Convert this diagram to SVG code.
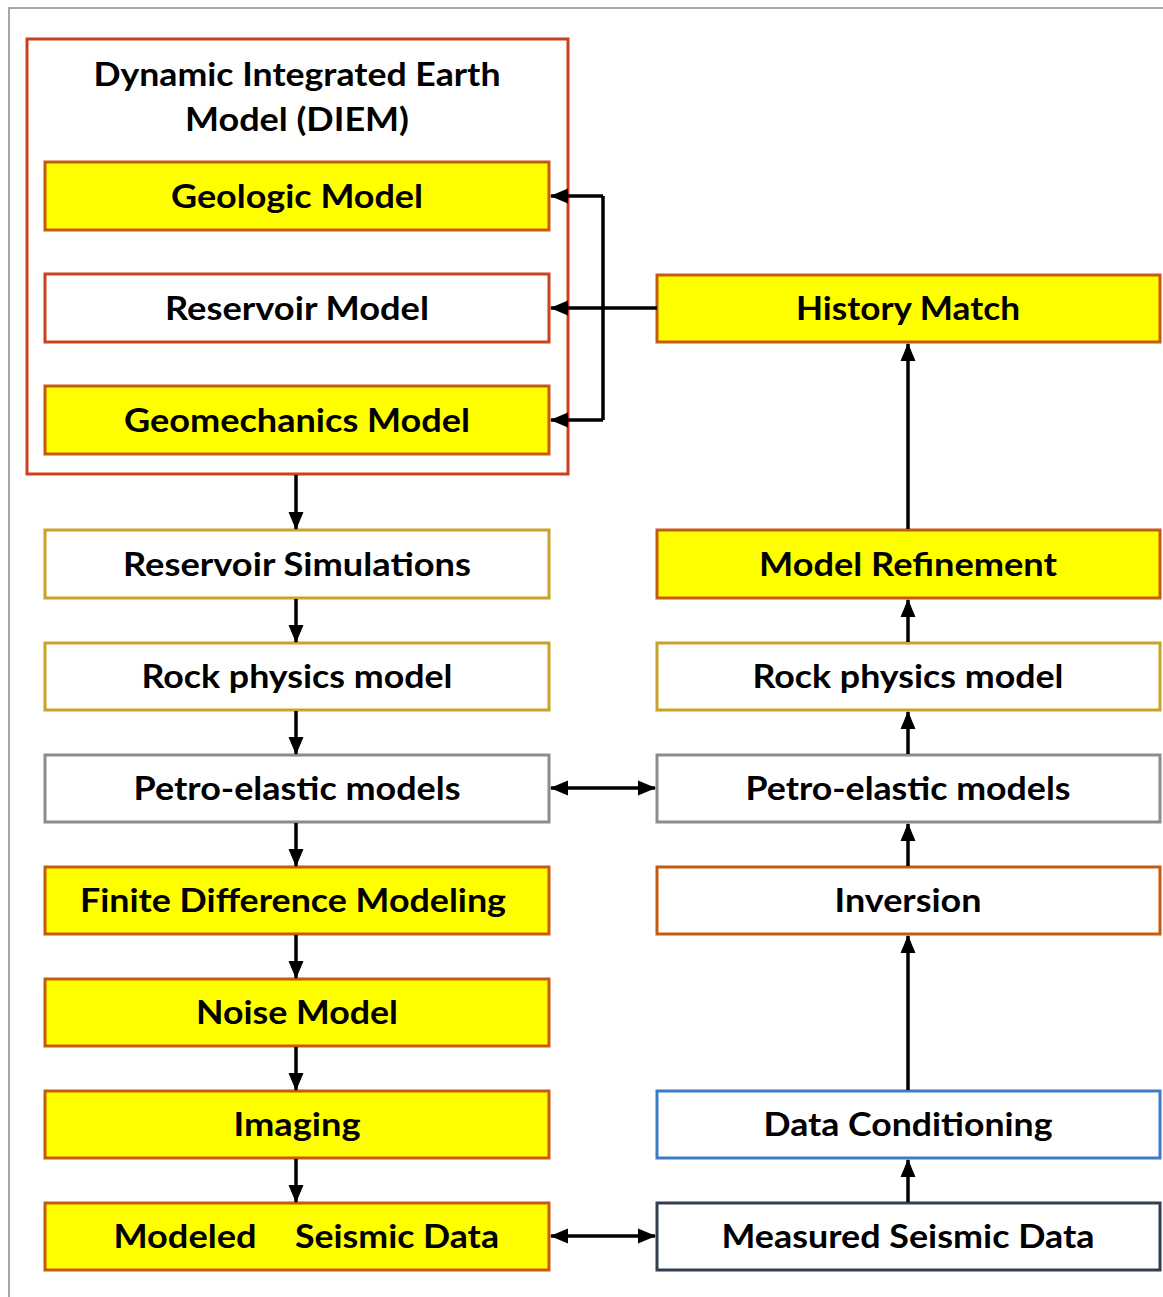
<svg xmlns="http://www.w3.org/2000/svg" width="1163" height="1297" viewBox="0 0 1163 1297">
<defs>
<marker id="ah" viewBox="0 0 18 18" refX="17" refY="9" markerWidth="18" markerHeight="18" markerUnits="userSpaceOnUse" orient="auto-start-reverse">
<path d="M0,1.5 L18,9 L0,16.5 Z" fill="#000"/>
</marker>
<style>
.box{stroke-width:3}
.y{fill:#FFFF00}
.w{fill:#FFFFFF}
.or{stroke:#C55A11}
.gd{stroke:#C9A227}
.gy{stroke:#8C8C8C}
.bl{stroke:#3B7DC4}
.dk{stroke:#333F50}
text{font-family:Lato,"Open Sans","Liberation Sans",sans-serif;font-weight:bold;font-size:33px;fill:#000;text-anchor:middle}
.c{stroke:#000;stroke-width:3.5;fill:none}
.ca{stroke:#000;stroke-width:3.5;fill:none;marker-end:url(#ah)}
.cb{stroke:#000;stroke-width:3.5;fill:none;marker-end:url(#ah);marker-start:url(#ah)}
</style>
</defs>
<rect x="0" y="0" width="1163" height="1297" fill="#FFFFFF"/>
<rect x="9" y="8" width="1170" height="1300" fill="none" stroke="#A6A6A6" stroke-width="2"/>

<g id="diem">
<rect x="27" y="39" width="541" height="435" fill="#FFFFFF" stroke="#C9401A" stroke-width="3"/>
<text x="297" y="86" textLength="407" lengthAdjust="spacingAndGlyphs">Dynamic Integrated Earth</text>
<text x="297" y="131" textLength="224" lengthAdjust="spacingAndGlyphs">Model (DIEM)</text>
</g>
<g id="geologic"><rect class="box y or" x="45" y="162" width="504" height="68"/><text x="297" y="208" textLength="252" lengthAdjust="spacingAndGlyphs">Geologic Model</text></g>
<g id="reservoir"><rect class="box w or" x="45" y="274" width="504" height="68" style="stroke:#C9401A"/><text x="297" y="320" textLength="264" lengthAdjust="spacingAndGlyphs">Reservoir Model</text></g>
<g id="geomech"><rect class="box y or" x="45" y="386" width="504" height="68"/><text x="297" y="432" textLength="346" lengthAdjust="spacingAndGlyphs">Geomechanics Model</text></g>
<g id="ressim"><rect class="box w gd" x="45" y="530" width="504" height="68"/><text x="297" y="576" textLength="348" lengthAdjust="spacingAndGlyphs">Reservoir Simulations</text></g>
<g id="rock-l"><rect class="box w gd" x="45" y="643" width="504" height="67"/><text x="297" y="688" textLength="311" lengthAdjust="spacingAndGlyphs">Rock physics model</text></g>
<g id="petro-l"><rect class="box w gy" x="45" y="755" width="504" height="67"/><text x="297" y="800" textLength="327" lengthAdjust="spacingAndGlyphs">Petro-elastic models</text></g>
<g id="fdm"><rect class="box y or" x="45" y="867" width="504" height="67"/><text x="293" y="912" textLength="426" lengthAdjust="spacingAndGlyphs">Finite Difference Modeling</text></g>
<g id="noise"><rect class="box y or" x="45" y="979" width="504" height="67"/><text x="297" y="1024" textLength="202" lengthAdjust="spacingAndGlyphs">Noise Model</text></g>
<g id="imaging"><rect class="box y or" x="45" y="1091" width="504" height="67"/><text x="297" y="1136" textLength="127" lengthAdjust="spacingAndGlyphs">Imaging</text></g>
<g id="modeled"><rect class="box y or" x="45" y="1203" width="504" height="67"/><text y="1248"><tspan x="185" textLength="143" lengthAdjust="spacingAndGlyphs">Modeled</tspan><tspan x="397" textLength="204" lengthAdjust="spacingAndGlyphs">Seismic Data</tspan></text></g>

<g id="history"><rect class="box y or" x="657" y="275" width="503" height="67"/><text x="908" y="320" textLength="224" lengthAdjust="spacingAndGlyphs">History Match</text></g>
<g id="refine"><rect class="box y or" x="657" y="530" width="503" height="68"/><text x="908" y="576" textLength="298" lengthAdjust="spacingAndGlyphs">Model Refinement</text></g>
<g id="rock-r"><rect class="box w gd" x="657" y="643" width="503" height="67"/><text x="908" y="688" textLength="311" lengthAdjust="spacingAndGlyphs">Rock physics model</text></g>
<g id="petro-r"><rect class="box w gy" x="657" y="755" width="503" height="67"/><text x="908" y="800" textLength="325" lengthAdjust="spacingAndGlyphs">Petro-elastic models</text></g>
<g id="inversion"><rect class="box w or" x="657" y="867" width="503" height="67"/><text x="908" y="912" textLength="147" lengthAdjust="spacingAndGlyphs">Inversion</text></g>
<g id="datacond"><rect class="box w bl" x="657" y="1091" width="503" height="67"/><text x="908" y="1136" textLength="289" lengthAdjust="spacingAndGlyphs">Data Conditioning</text></g>
<g id="measured"><rect class="box w dk" x="657" y="1203" width="503" height="67"/><text x="908" y="1248" textLength="373" lengthAdjust="spacingAndGlyphs">Measured Seismic Data</text></g>

<g id="connectors">
<line class="ca" x1="657" y1="308" x2="551" y2="308"/>
<polyline class="c" points="603,196 603,420"/>
<line class="ca" x1="603" y1="196" x2="551" y2="196"/>
<line class="ca" x1="603" y1="420" x2="551" y2="420"/>
<line class="ca" x1="296" y1="475" x2="296" y2="529"/>
<line class="ca" x1="296" y1="599" x2="296" y2="642"/>
<line class="ca" x1="296" y1="711" x2="296" y2="754"/>
<line class="ca" x1="296" y1="823" x2="296" y2="866"/>
<line class="ca" x1="296" y1="935" x2="296" y2="978"/>
<line class="ca" x1="296" y1="1047" x2="296" y2="1090"/>
<line class="ca" x1="296" y1="1159" x2="296" y2="1202"/>
<line class="cb" x1="551" y1="788" x2="655" y2="788"/>
<line class="cb" x1="551" y1="1236" x2="655" y2="1236"/>
<line class="ca" x1="908" y1="1202" x2="908" y2="1160"/>
<line class="ca" x1="908" y1="1090" x2="908" y2="936"/>
<line class="ca" x1="908" y1="866" x2="908" y2="824"/>
<line class="ca" x1="908" y1="754" x2="908" y2="712"/>
<line class="ca" x1="908" y1="642" x2="908" y2="600"/>
<line class="ca" x1="908" y1="529" x2="908" y2="344"/>
</g>
</svg>
